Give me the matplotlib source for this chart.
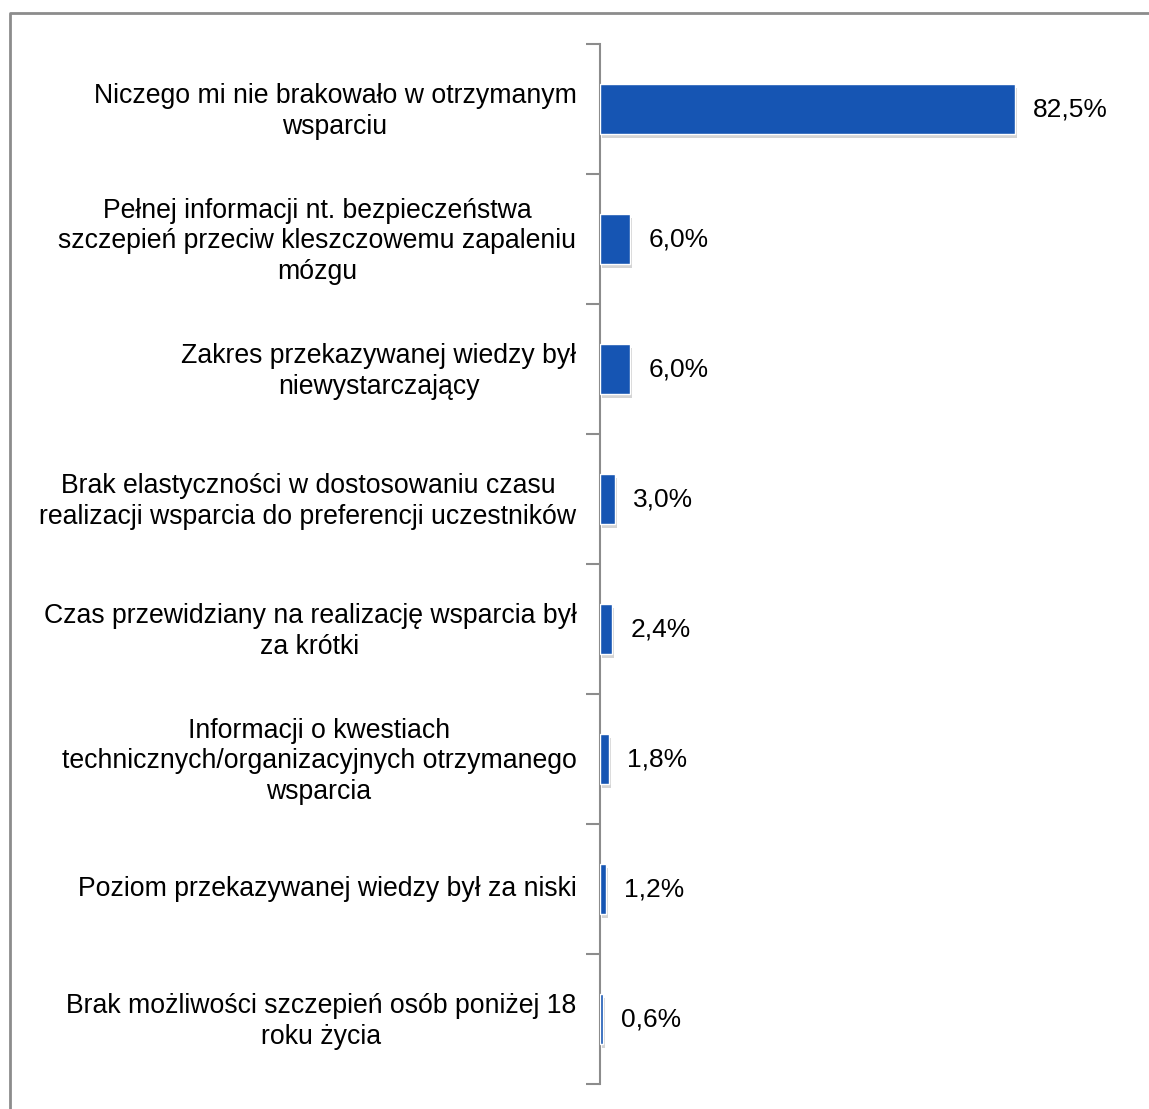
import matplotlib
matplotlib.use("Agg")
import matplotlib.pyplot as plt
import matplotlib.patheffects as pe
from matplotlib.lines import Line2D
import numpy as np

plt.rcParams["font.family"] = ["Liberation Sans", "DejaVu Sans"]

categories = [
    "Niczego mi nie brakowało w otrzymanym\nwsparciu",
    "Pełnej informacji nt. bezpieczeństwa\nszczepień przeciw kleszczowemu zapaleniu\nmózgu",
    "Zakres przekazywanej wiedzy był\nniewystarczający",
    "Brak elastyczności w dostosowaniu czasu\nrealizacji wsparcia do preferencji uczestników",
    "Czas przewidziany na realizację wsparcia był\nza krótki",
    "Informacji o kwestiach\ntechnicznych/organizacyjnych otrzymanego\nwsparcia",
    "Poziom przekazywanej wiedzy był za niski",
    "Brak możliwości szczepień osób poniżej 18\nroku życia",
]
values = [82.5, 6.0, 6.0, 3.0, 2.4, 1.8, 1.2, 0.6]
value_labels = ["82,5%", "6,0%", "6,0%", "3,0%", "2,4%", "1,8%", "1,2%", "0,6%"]

W, H = 1149, 1109
fig = plt.figure(figsize=(W / 100, H / 100), dpi=100)
ax = fig.add_axes([600 / W, 1 - 1084 / H, 503 / W, 1040 / H])

y = np.arange(len(categories))
bars = ax.barh(y, values, height=0.385, color="#1655b3", edgecolor="white",
               linewidth=1.0, zorder=3)
for b in bars:
    b.set_path_effects([pe.SimplePatchShadow(offset=(1.5, -3), shadow_rgbFace="#a0a0a0",
                                             alpha=0.45),
                        pe.Normal()])

for yi, v, lab in zip(y, values, value_labels):
    ax.annotate(lab, (v, yi), xytext=(13, 0), textcoords="offset points",
                ha="left", va="center", fontsize=19, color="black")

ax.set_xlim(0, 100)
ax.set_ylim(len(categories) - 0.5, -0.5)

ax.set_yticks(y)
ax.set_yticklabels(categories, fontsize=19.2, multialignment="center",
                   linespacing=1.22)
ax.set_yticks(np.arange(len(categories) + 1) - 0.5, minor=True)
ax.tick_params(axis="y", which="major", length=0, pad=17)
ax.tick_params(axis="y", which="minor", length=10, width=1.5, color="#8c8c8c")
ax.set_xticks([])
for t in ax.get_yticklabels():
    t.set_y(t.get_position()[1])
    t.set_transform(t.get_transform() + matplotlib.transforms.ScaledTranslation(0, 2 / 72, fig.dpi_scale_trans))

for s in ["top", "right", "bottom"]:
    ax.spines[s].set_visible(False)
ax.spines["left"].set_color("#8c8c8c")
ax.spines["left"].set_linewidth(1.5)

# outer frame (left and top edges only)
x0 = 9.5 / W
y0 = 1 - 12.5 / H
fig.add_artist(Line2D([x0, x0, 1], [0, y0, y0], transform=fig.transFigure,
                      color="#8c8c8c", linewidth=2))

fig.savefig("out.png", dpi=100)
